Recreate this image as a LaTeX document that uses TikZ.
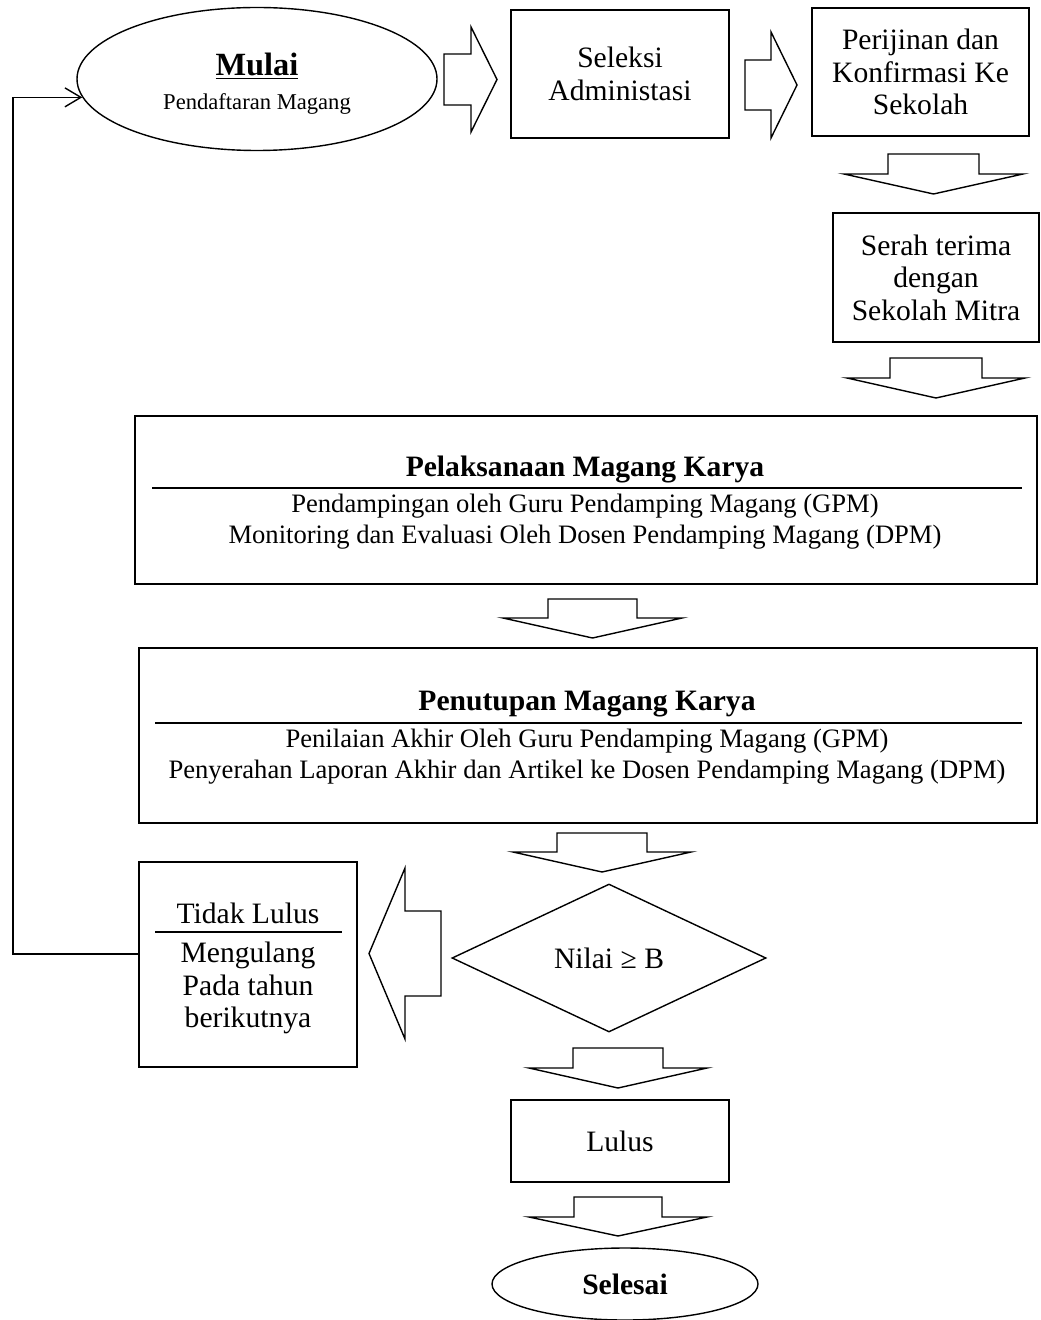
\documentclass[tikz,border=0pt]{standalone}
\usepackage{fontspec}
\setmainfont{Liberation Serif}
\usetikzlibrary{shapes.geometric,arrows.meta}

\begin{document}
\begin{tikzpicture}[x=0.5pt,y=-0.5pt,line width=0.7pt,
  every node/.style={font=\fontsize{14.8}{16.25}\selectfont, inner sep=0pt},
  isi/.style={font=\fontsize{13.3}{15}\selectfont},
  kotak/.style={draw, rectangle, align=center},
  lonjong/.style={draw, ellipse, align=center},
  panah/.style={draw, line join=miter},
  balik/.style={-{Straight Barb[length=8pt,width=9.5pt]}}]
\useasboundingbox (0,0) rectangle (1040,1320);

\node[lonjong, minimum width=180pt, minimum height=71.5pt] (mulai) at (257,79) {\rule{0pt}{16pt}{\fontsize{16.2}{17}\selectfont\underline{\textbf{Mulai}}}\\[1pt]{\fontsize{11.3}{13}\selectfont Pendaftaran Magang}};
\node[kotak, minimum width=109pt, minimum height=64pt] (seleksi) at (620,74) {Seleksi\\Administasi};
\node[kotak, minimum width=108.5pt, minimum height=64pt] (izin) at (920.5,72) {Perijinan dan\\Konfirmasi Ke\\Sekolah};
\node[kotak, minimum width=103pt, minimum height=64.5pt] (serah) at (936,277.5) {Serah terima\\dengan\\Sekolah Mitra};

\node[kotak, minimum width=451pt, minimum height=84pt] (laksana) at (586,500) {};
\node (laksanaJudul) at (585,469) {\textbf{Pelaksanaan Magang Karya}};
\draw (152,488) -- (1022,488);
\node[isi] (laksanaSatu) at (585,506) {Pendampingan oleh Guru Pendamping Magang (GPM)};
\node[isi] (laksanaDua) at (585,537) {Monitoring dan Evaluasi Oleh Dosen Pendamping Magang (DPM)};

\node[kotak, minimum width=449pt, minimum height=87.5pt] (tutup) at (588,735.5) {};
\node (tutupJudul) at (587,704) {\textbf{Penutupan Magang Karya}};
\draw (155,723) -- (1022,723);
\node[isi] (tutupSatu) at (587,741) {Penilaian Akhir Oleh Guru Pendamping Magang (GPM)};
\node[isi] (tutupDua) at (587,772) {Penyerahan Laporan Akhir dan Artikel ke Dosen Pendamping Magang (DPM)};

\node[draw, diamond, minimum width=157pt, minimum height=74pt] (nilai) at (609,958) {Nilai ≥ B};

\node[kotak, minimum width=109pt, minimum height=102.5pt] (tidak) at (248,964.5) {};
\node (tidakJudul) at (248,913) {Tidak Lulus};
\draw (155,932) -- (342,932);
\node[align=center] (tidakIsi) at (248,988) {Mengulang\\Pada tahun\\berikutnya};

\node[kotak, minimum width=109pt, minimum height=41pt] (lulus) at (620,1141) {Lulus};
\node[lonjong, minimum width=133pt, minimum height=36pt] (selesai) at (625,1284) {\textbf{Selesai}};

\draw[panah] (444,54) --++(27,0) --++(0,-27) --++(26,52.5) --++(-26,52.5) --++(0,-27) --++(-27,0) -- cycle;
\draw[panah] (745,60) --++(26,0) --++(0,-28) --++(26,53) --++(-26,53) --++(0,-28) --++(-26,0) -- cycle;
\draw[panah] (441,911) --++(-36,0) --++(0,-43) --++(-36,85.5) --++(36,85.5) --++(0,-43) --++(36,0) -- cycle;

\foreach \xl/\yt/\w/\a/\e/\h in {888/154/91/20/44/20, 890/358/92/20/43/20, 548/599/89/19/45/20,
  557/833/90/19/44/20, 573/1048/90/20/44/20, 574/1197/88/20/45/19}{
\draw[panah] (\xl,\yt) --++(\w,0) --++(0,\a) --++(\e,0) --++({-(\w/2+\e)},\h) --++({-(\w/2+\e)},-\h) --++(\e,0) -- cycle;
}

\coordinate (pojok) at (13,0);
\draw[balik] ([yshift=5.25pt]tidak.west) -| (pojok |- mulai.186) -- (mulai.186);
\end{tikzpicture}
\end{document}
